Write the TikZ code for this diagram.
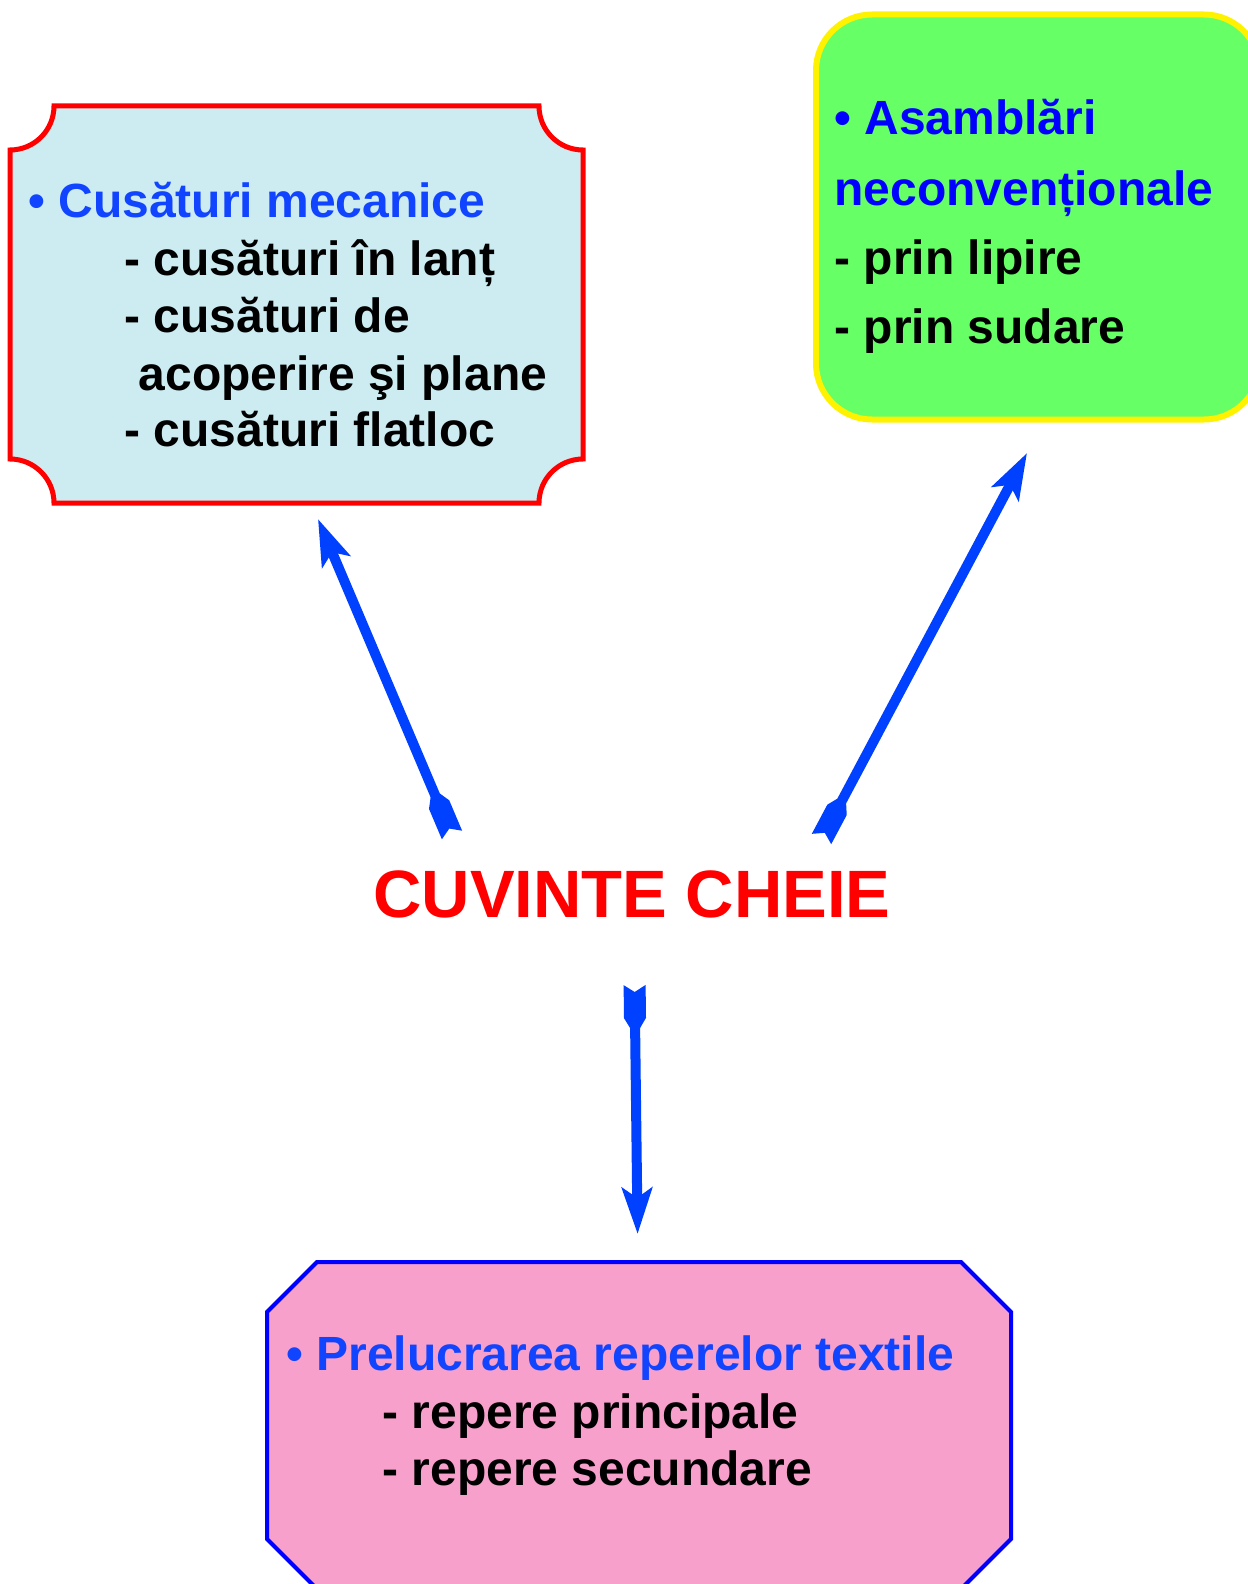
\documentclass[tikz,border=0pt]{standalone}
\usepackage{fontspec}
\setmainfont{Liberation Sans}
\usetikzlibrary{arrows.meta,calc}
\definecolor{boxblue}{RGB}{204,236,242}
\definecolor{titleblue}{RGB}{17,68,255}
\definecolor{arrowblue}{RGB}{0,64,255}
\definecolor{greenfill}{RGB}{102,255,102}
\definecolor{pinkfill}{RGB}{247,160,204}
\newcommand\fletching[2]{%
  \fill[arrowblue] ($(#1)!3.5pt!(#2)$)
    -- ($(#1)!5.5pt!90:(#2)$)
    -- ($(#1)!16.5pt!(#2)!5.5pt!90:(#2)$)
    -- ($(#1)!21.5pt!(#2)!2.5pt!90:(#2)$)
    -- ($(#1)!21.5pt!(#2)!2.5pt!-90:(#2)$)
    -- ($(#1)!16.5pt!(#2)!5.5pt!-90:(#2)$)
    -- ($(#1)!5.5pt!-90:(#2)$)
    -- cycle;}
\begin{document}
\begin{tikzpicture}[x=0.5pt,y=-0.5pt,
  txt/.style={anchor=base west, inner sep=0pt, font=\fontsize{24}{28.8}\selectfont\bfseries},
  conn/.style={draw=arrowblue, line width=5pt, -{Stealth[length=23pt,width=15pt,inset=5pt]}}]
\useasboundingbox (0,0) rectangle (1247,1584);
% red box
\draw[red, line width=2.5pt, fill=boxblue]
  (10,150) .. controls (34.3,150) and (54,130.3) .. (54,106)
  -- (539,106) .. controls (539,130.3) and (558.7,150) .. (583,150)
  -- (583,459) .. controls (558.7,459) and (539,478.7) .. (539,503)
  -- (54,503) .. controls (54,478.7) and (34.3,459) .. (10,459) -- cycle;
% green box
\draw[yellow, line width=3pt, fill=greenfill, rounded corners=28pt]
  (816,14.5) rectangle (1260,419.5);
% pink box
\draw[blue, line width=2pt, fill=pinkfill]
  (267,1312) -- (317,1262) -- (961,1262) -- (1011,1312) -- (1011,1539)
  -- (961,1589) -- (317,1589) -- (267,1539) -- cycle;
% texts red box
\node[txt, text=titleblue] (r1) at (28,217) {• Cusături mecanice};
\node[txt] (r2) at (124,275) {- cusături în lanț};
\node[txt] (r3) at (124,332.5) {- cusături de};
\node[txt] (r4) at (138.5,390) {acoperire şi plane};
\node[txt] (r5) at (124,446.6) {- cusături flatloc};
% texts green box
\node[txt, text=blue] (g1) at (834,134.4) {• Asamblări};
\node[txt, text=blue] (g2) at (834,205) {neconvenționale};
\node[txt] (g3) at (834,274) {- prin lipire};
\node[txt] (g4) at (834,343.6) {- prin sudare};
% texts pink box
\node[txt, text=titleblue] (p1) at (286,1370) {• Prelucrarea reperelor textile};
\node[txt] (p2) at (382,1428) {- repere principale};
\node[txt] (p3) at (382,1485.5) {- repere secundare};
% centre
\node[anchor=base, inner sep=0pt, text=red, font=\fontsize{33.5}{40}\selectfont\bfseries]
  (kw) at (632,917.5) {CUVINTE CHEIE};
% arrows
\coordinate (lt) at (452,835);
\coordinate (lh) at (318,519);
\coordinate (rt) at (821.5,839);
\coordinate (rh) at (1027,453);
\coordinate (dt) at (634.6,985);
\coordinate (dh) at (637.6,1234);
\foreach \t/\h in {lt/lh, rt/rh, dt/dh}{
  \fletching{\t}{\h}
  \draw[conn] ($(\t)!19pt!(\h)$) -- (\h);
}
\end{tikzpicture}
\end{document}
